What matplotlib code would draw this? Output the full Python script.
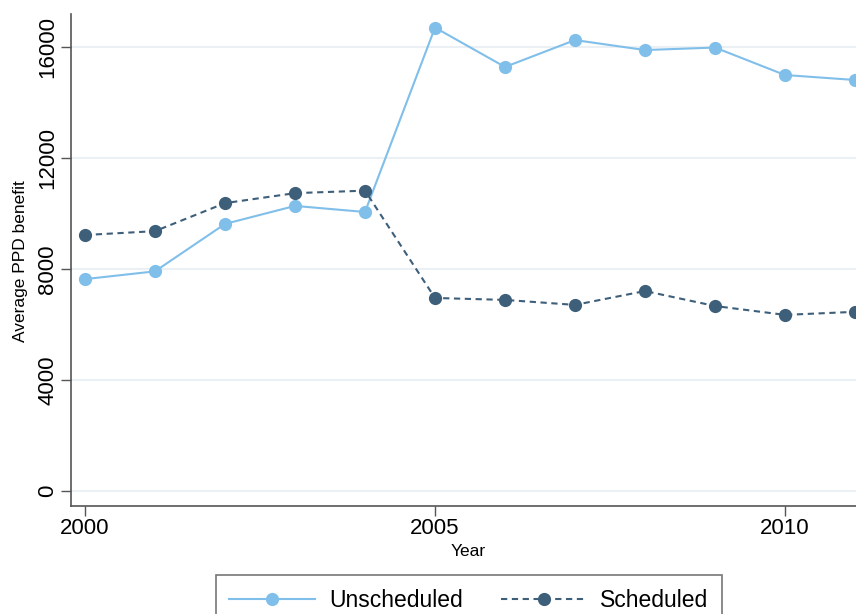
import matplotlib
matplotlib.use("Agg")
import matplotlib.pyplot as plt
from matplotlib.lines import Line2D

plt.rcParams['font.family'] = ['Liberation Sans', 'DejaVu Sans']

years = [2000, 2001, 2002, 2003, 2004, 2005, 2006, 2007, 2008, 2009, 2010, 2011]
unscheduled = [7630, 7910, 9620, 10270, 10050, 16700, 15280, 16250, 15890, 15980, 14990, 14810]
scheduled = [9220, 9360, 10370, 10730, 10820, 6950, 6880, 6700, 7200, 6660, 6340, 6450]
yticks = [0, 4000, 8000, 12000, 16000]
xticks = [2000, 2005, 2010]

W, H = 856, 614
fig = plt.figure(figsize=(W / 100, H / 100), dpi=100)
ax = fig.add_axes([71 / W, (H - 505.7) / H, 1 - 71 / W, (505.7 - 14) / H])

light = '#80BFEA'
dark = '#3E5F7A'
dash = (0, (3.0, 2.2))

ax.plot(years, unscheduled, color=light, lw=1.5, marker='o', ms=9.5,
        markeredgewidth=0, label='Unscheduled', clip_on=False, zorder=3)
ax.plot(years, scheduled, color=dark, lw=1.5, ls=dash, marker='o', ms=9.5,
        markeredgewidth=0, label='Scheduled', clip_on=False, zorder=3)

ax.set_xlim(2000 - 14 / 70, 2000 + (856 - 85) / 70)
ax.set_ylim(-541, 17190)
ax.set_yticks(yticks)
ax.set_yticklabels([str(v) for v in yticks], rotation=90, va='center', fontsize=16)
ax.set_xticks(xticks)
ax.set_xticklabels([str(v) for v in xticks], fontsize=16)

for y in yticks:
    ax.axhline(y, color='#EAF0F4', lw=1.5, zorder=0)

for s in ['top', 'right']:
    ax.spines[s].set_visible(False)
for s in ['left', 'bottom']:
    ax.spines[s].set_color('#555555')
    ax.spines[s].set_linewidth(1.2)
ax.tick_params(axis='both', direction='out', length=7, width=1.0, color='#555555', labelcolor='black')
ax.tick_params(axis='y', pad=2)
ax.tick_params(axis='x', pad=2)

fig.text(21 / W, 1 - 261 / H, 'Average PPD benefit', rotation=90, ha='center', va='center', fontsize=12.5)
fig.text(468 / W, 1 - 551 / H, 'Year', ha='center', va='center', fontsize=12.5)

handles = [
    Line2D([], [], color=light, lw=1.5, marker='o', ms=9.5, markeredgewidth=0),
    Line2D([], [], color=dark, lw=1.5, ls=dash, marker='o', ms=9.5, markeredgewidth=0),
]
leg = fig.legend(handles, ['Unscheduled', 'Scheduled'], loc='upper center',
                 bbox_to_anchor=(469 / W, 1 - 575 / H), ncol=2, fontsize=16.5,
                 frameon=True, fancybox=False, handlelength=3.75, handletextpad=0.6,
                 columnspacing=1.65, borderpad=0.6, borderaxespad=0)
leg.get_frame().set_edgecolor('#555555')
leg.get_frame().set_linewidth(1.2)

fig.savefig('out.png', dpi=100)
